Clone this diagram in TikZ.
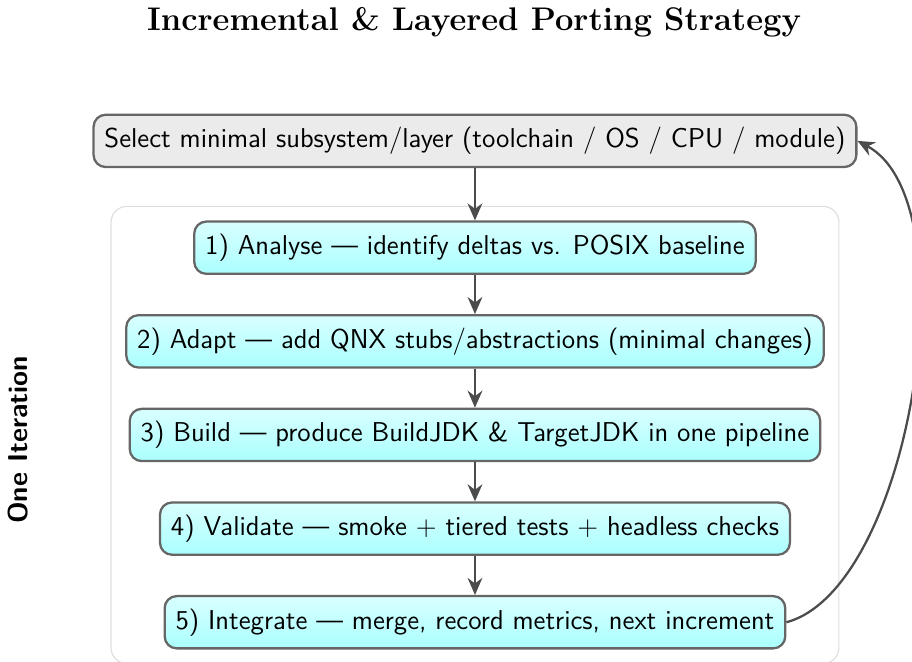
\documentclass[tikz,border=0pt]{standalone}
\usepackage{tikz}
\usetikzlibrary{arrows.meta, positioning, fit}

\begin{document}
\begin{tikzpicture}[
    node distance=17.2pt,
    selectbox/.style = {rectangle, draw=black!60, line width=1pt, rounded corners=5.3pt, minimum height=23pt, inner xsep=4.8pt, font=\sffamily\large, fill=black!8},
    stepbox/.style = {rectangle, draw=black!60, line width=1pt, rounded corners=5.3pt, minimum height=23pt, inner xsep=4.8pt, font=\sffamily\large, top color=cyan!15, bottom color=cyan!33},
    flow/.style = {draw=black!70, line width=1pt, -{Stealth[length=7.5pt,width=6.5pt]}},
    >=Stealth]

    \useasboundingbox (-209pt,62pt) rectangle (192.3pt,-229.2pt);

    \node[font=\Large\bfseries] (title) at (-0.4pt,52.4pt) {Incremental \& Layered Porting Strategy};

    \node[selectbox] (sel) at (0,0) {Select minimal subsystem/layer (toolchain / OS / CPU / module)};
    \node[stepbox, below=23pt of sel] (analyse) {1) Analyse --- identify deltas vs. POSIX baseline};
    \node[stepbox, below=of analyse] (adapt) {2) Adapt --- add QNX stubs/abstractions (minimal changes)};
    \node[stepbox, below=of adapt] (build) {3) Build --- produce BuildJDK \& TargetJDK in one pipeline};
    \node[stepbox, below=of build] (validate) {4) Validate --- smoke $+$ tiered tests $+$ headless checks};
    \node[stepbox, below=of validate] (integrate) {5) Integrate --- merge, record metrics, next increment};

    % frame of one iteration
    \node[draw=black!13, line width=0.5pt, rounded corners=7pt, inner sep=6.2pt, fit=(analyse)(adapt)(build)(validate)(integrate)] (iter) {};
    \node[rotate=90, font=\sffamily\bfseries\large] (iterlabel) at (-201.1pt,-131.6pt) {One Iteration};

    \draw[flow] (sel) -- (analyse);
    \draw[flow] (analyse) -- (adapt);
    \draw[flow] (adapt) -- (build);
    \draw[flow] (build) -- (validate);
    \draw[flow] (validate) -- (integrate);
    \draw[flow] (integrate.east) to[out=15, in=-28, looseness=0.68] (sel.east);
\end{tikzpicture}
\end{document}
